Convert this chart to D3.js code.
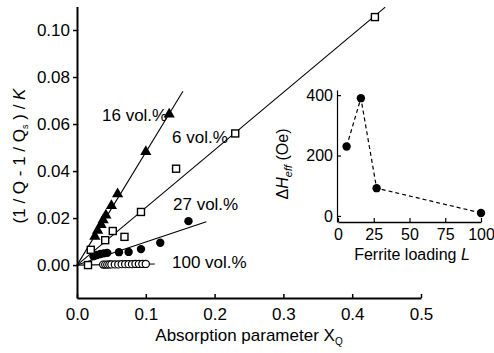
<!DOCTYPE html>
<html>
<head>
<meta charset="utf-8">
<script src="https://cdn.jsdelivr.net/npm/d3@7"></script>
<style>
body { margin: 0; background: #fff; }
svg { font-family: "Liberation Sans", Arial, sans-serif; }
</style>
</head>
<body>
<svg id="chart"></svg>
<script>
// 16 vol.% (filled triangles)
var triX16 = [0.026, 0.030, 0.035, 0.038, 0.042, 0.050, 0.059, 0.100, 0.134]
var triY16 = [0.012, 0.0145, 0.017, 0.019, 0.021, 0.025, 0.030, 0.048, 0.064]
// 6 vol.% (open squares)
var sqX6 = [0.016, 0.020, 0.041, 0.052, 0.069, 0.093, 0.144, 0.230, 0.433]
var sqY6 = [0.000, 0.0065, 0.0106, 0.0145, 0.012, 0.0226, 0.041, 0.056, 0.1055]
// 27 vol.% (filled circles)
var dotX27 = [0.024, 0.029, 0.034, 0.039, 0.044, 0.061, 0.075, 0.093, 0.121, 0.162]
var dotY27 = [0.0038, 0.0043, 0.0047, 0.005, 0.0052, 0.0055, 0.0056, 0.0068, 0.0095, 0.0187]
// 100 vol.% (open circles)
var ringX100 = [0.038, 0.041, 0.044, 0.047, 0.050, 0.055, 0.060, 0.065, 0.070, 0.075, 0.080, 0.085, 0.090, 0.095, 0.100]
var ringY100 = [0.0002, 0.0002, 0.0002, 0.0003, 0.0003, 0.0003, 0.0003, 0.0004, 0.0004, 0.0004, 0.0004, 0.0005, 0.0005, 0.0005, 0.0005]

// linear fits through the origin
var fitNames = ["16 vol.%", "6 vol.%", "27 vol.%", "100 vol.%"]
var fitSlopes = [0.48, 0.245, 0.098, 0.004]
var fitEndX = [0.154, 0.448, 0.188, 0.113]

var xTicks = [0, 0.1, 0.2, 0.3, 0.4, 0.5]
var yTicks = [0, 0.02, 0.04, 0.06, 0.08, 0.10]

// inset: linewidth vs loading
var loading = [6, 16, 27, 100]
var deltaH = [230, 390, 92, 10]
var insetXTicks = [0, 25, 50, 75, 100]
var insetYTicks = [0, 200, 400]

var width = 494, height = 353

var svg = d3.select("#chart")
    .attr("width", width)
    .attr("height", height)

var xScale = d3.scaleLinear().domain([0, 0.5]).range([77, 421])
var yScale = d3.scaleLinear().domain([-0.014, 0.110]).range([298, 6.5])

//fit lines
var fits = fitSlopes.map(function(s, i) {
    return [[0, 0], [fitEndX[i], s * fitEndX[i]]]
})
var line = d3.line()
    .x(function(d) { return xScale(d[0]) })
    .y(function(d) { return yScale(d[1]) })

svg.append("g")
    .selectAll("path")
    .data(fits)
    .enter()
    .append("path")
    .attr("d", line)
    .attr("fill", "none")
    .attr("stroke", "#000")
    .attr("stroke-width", 1.1)

var zip = function(xs, ys) {
    return xs.map(function(x, i) { return [x, ys[i]] })
}

//markers
svg.append("g")
    .selectAll("circle")
    .data(zip(ringX100, ringY100))
    .enter()
    .append("circle")
    .attr("cx", function(d) { return xScale(d[0]) })
    .attr("cy", function(d) { return yScale(d[1]) })
    .attr("r", 3.6)
    .attr("fill", "#fff")
    .attr("stroke", "#000")
    .attr("stroke-width", 1.2)

svg.append("g")
    .selectAll("circle")
    .data(zip(dotX27, dotY27))
    .enter()
    .append("circle")
    .attr("cx", function(d) { return xScale(d[0]) })
    .attr("cy", function(d) { return yScale(d[1]) })
    .attr("r", 4.2)
    .attr("fill", "#000")

svg.append("g")
    .selectAll("rect")
    .data(zip(sqX6, sqY6))
    .enter()
    .append("rect")
    .attr("x", function(d) { return xScale(d[0]) - 3.5 })
    .attr("y", function(d) { return yScale(d[1]) - 3.5 })
    .attr("width", 7)
    .attr("height", 7)
    .attr("fill", "#fff")
    .attr("stroke", "#000")
    .attr("stroke-width", 1.4)

var tri = d3.symbol().type(d3.symbolTriangle).size(55)
svg.append("g")
    .selectAll("path")
    .data(zip(triX16, triY16))
    .enter()
    .append("path")
    .attr("d", tri)
    .attr("transform", function(d) {
        return "translate(" + xScale(d[0]) + "," + (yScale(d[1]) - 0.5) + ")"
    })
    .attr("fill", "#000")

//series labels
var labelPos = [[102, 121], [172, 143], [173, 210], [172, 268]]
svg.append("g")
    .selectAll("text")
    .data(fitNames)
    .enter()
    .append("text")
    .attr("x", function(d, i) { return labelPos[i][0] })
    .attr("y", function(d, i) { return labelPos[i][1] })
    .attr("font-size", 17)
    .text(function(d) { return d })

//axes
var xAxis = d3.axisBottom(xScale)
    .tickValues(xTicks)
    .tickFormat(d3.format(".1f"))
    .tickSizeInner(-4)
    .tickSizeOuter(0)
    .tickPadding(10)

var gx = svg.append("g")
    .attr("transform", "translate(0,298)")
    .call(xAxis)
gx.select(".domain").attr("stroke-width", 2)
gx.selectAll(".tick line").attr("stroke-width", 1.5)
gx.selectAll("text").attr("font-size", 17).attr("font-family", null).attr("fill", "#000")

var yAxis = d3.axisLeft(yScale)
    .tickValues(yTicks)
    .tickFormat(d3.format(".2f"))
    .tickSizeInner(4)
    .tickSizeOuter(0)
    .tickPadding(3)

var gy = svg.append("g")
    .attr("transform", "translate(77,0)")
    .call(yAxis)
gy.select(".domain").attr("stroke-width", 2)
gy.selectAll(".tick line").attr("stroke-width", 1.5)
gy.selectAll("text").attr("font-size", 17).attr("font-family", null).attr("fill", "#000")

//axis titles
var xt = svg.append("text")
    .attr("x", 249)
    .attr("y", 341)
    .attr("text-anchor", "middle")
    .attr("font-size", 17)
xt.append("tspan").text("Absorption parameter X")
xt.append("tspan").attr("font-size", 10).attr("dy", 4).text("Q")

var yt = svg.append("text")
    .attr("transform", "translate(25,156) rotate(-90)")
    .attr("text-anchor", "middle")
    .attr("font-size", 17)
yt.append("tspan").text("(1 / Q - 1 / Q")
yt.append("tspan").attr("font-size", 9).attr("dy", 3).text("s")
yt.append("tspan").attr("dy", -3).text(" ) / ")
yt.append("tspan").attr("font-style", "italic").text("K")

//inset
var ixScale = d3.scaleLinear().domain([0, 100]).range([338, 481])
var iyScale = d3.scaleLinear().domain([-20, 417]).range([222, 90])

var dashed = d3.line()
    .x(function(d) { return ixScale(d[0]) })
    .y(function(d) { return iyScale(d[1]) })

svg.append("path")
    .attr("d", dashed(zip(loading, deltaH)))
    .attr("fill", "none")
    .attr("stroke", "#000")
    .attr("stroke-width", 1.2)
    .attr("stroke-dasharray", "4,3")

svg.append("g")
    .selectAll("circle")
    .data(zip(loading, deltaH))
    .enter()
    .append("circle")
    .attr("cx", function(d) { return ixScale(d[0]) })
    .attr("cy", function(d) { return iyScale(d[1]) })
    .attr("r", 4.2)
    .attr("fill", "#000")

var ixAxis = d3.axisBottom(ixScale)
    .tickValues(insetXTicks)
    .tickSizeInner(-4)
    .tickSizeOuter(0)
    .tickPadding(7)
var gix = svg.append("g")
    .attr("transform", "translate(0,222)")
    .call(ixAxis)
gix.select(".domain").attr("stroke-width", 1.5)
gix.selectAll(".tick line").attr("stroke-width", 1.2)
gix.selectAll("text").attr("font-size", 16).attr("font-family", null).attr("fill", "#000")

var iyAxis = d3.axisLeft(iyScale)
    .tickValues(insetYTicks)
    .tickSizeInner(-4)
    .tickSizeOuter(0)
    .tickPadding(4)
var giy = svg.append("g")
    .attr("transform", "translate(337,0)")
    .call(iyAxis)
giy.select(".domain").attr("stroke-width", 1.2)
giy.selectAll(".tick line").attr("stroke-width", 1.2)
giy.selectAll("text").attr("font-size", 16).attr("font-family", null).attr("fill", "#000")

var ixt = svg.append("text")
    .attr("x", 412)
    .attr("y", 260)
    .attr("text-anchor", "middle")
    .attr("font-size", 16)
ixt.append("tspan").text("Ferrite loading ")
ixt.append("tspan").attr("font-style", "italic").text("L")

var iyt = svg.append("text")
    .attr("transform", "translate(288,164) rotate(-90)")
    .attr("text-anchor", "middle")
    .attr("font-size", 16)
iyt.append("tspan").text("\u0394")
iyt.append("tspan").attr("font-style", "italic").text("H")
iyt.append("tspan").attr("font-style", "italic").attr("font-size", 11).attr("dy", 4).text("eff")
iyt.append("tspan").attr("dy", -4).text(" (Oe)")
</script>
</body>
</html>
